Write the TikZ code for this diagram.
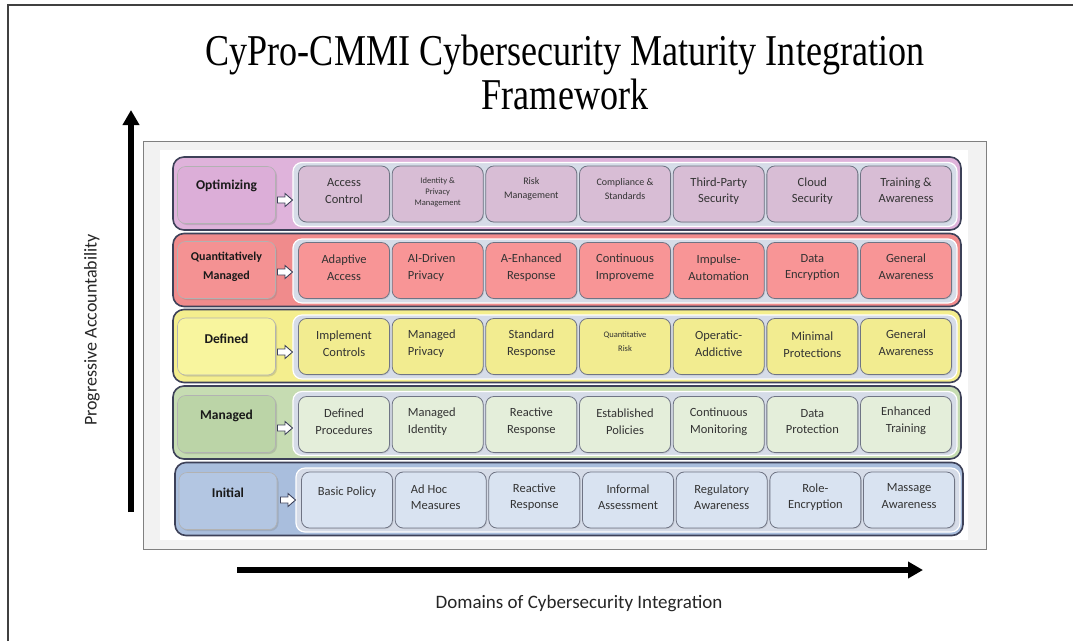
\documentclass[tikz,border=0pt]{standalone}
\usepackage{fontspec}
\setmainfont{Carlito}
\newfontfamily\titlefont{Liberation Serif}
\usetikzlibrary{shadows,arrows.meta}
\definecolor{rowline}{HTML}{3D4158}
\definecolor{cellline}{HTML}{6F7484}
\definecolor{contfill}{HTML}{D6DCE8}
\definecolor{oA}{HTML}{DFB3DB}\definecolor{lA}{HTML}{DCAED8}\definecolor{cA}{HTML}{D8BDD5}
\definecolor{oB}{HTML}{F08B8C}\definecolor{lB}{HTML}{F49293}\definecolor{cB}{HTML}{F89596}
\definecolor{oC}{HTML}{F4EE8E}\definecolor{lC}{HTML}{F8F59E}\definecolor{cC}{HTML}{F2EC90}
\definecolor{oD}{HTML}{C6DCB2}\definecolor{lD}{HTML}{BBD4A7}\definecolor{cD}{HTML}{E4EEDA}
\definecolor{oE}{HTML}{A9BEDD}\definecolor{lE}{HTML}{B3C6E2}\definecolor{cE}{HTML}{D9E3F1}
\newcommand\blockarrowat[1]{%
  \draw[blockarrow, shift={(#1)}] (-7.5,-3) -- (0,-3) -- (0,-6.5) -- (7.5,0) -- (0,6.5) -- (0,3) -- (-7.5,3) -- cycle;}
\begin{document}
\begin{tikzpicture}[x=1pt,y=-1pt,
  rowbox/.style={draw=rowline, line width=1.6pt, rounded corners=11pt, minimum width=788pt, minimum height=73pt, inner sep=0pt},
  container/.style={draw=white, line width=1.2pt, fill=contfill, rounded corners=9pt, minimum width=664pt, minimum height=64pt, inner sep=0pt},
  cell/.style={draw=cellline, line width=0.8pt, rounded corners=8pt, minimum width=91pt, minimum height=56pt, inner sep=0pt,
     drop shadow={shadow xshift=1pt, shadow yshift=-1pt, opacity=0.2}},
  level/.style={draw=black!30, line width=0.6pt, rounded corners=8pt, minimum width=98pt, minimum height=57pt, inner sep=0pt,
     drop shadow={shadow xshift=1.5pt, shadow yshift=-1.5pt, opacity=0.3}},
  ctext/.style={align=center, text=black!80, font=\fontsize{12.5}{16.5}\selectfont, inner sep=0pt},
  ltext/.style={align=left, anchor=west},
  fsm/.style={font=\fontsize{8.5}{11}\selectfont},
  fmd/.style={font=\fontsize{10}{14}\selectfont},
  lvtext/.style={align=center, text=black!90, font=\bfseries\fontsize{13.5}{19}\selectfont, inner sep=0pt},
  blockarrow/.style={draw=rowline, line width=0.9pt, fill=white, line join=miter},
  bigarrow/.style={line width=5.5pt, -{Triangle[length=15pt,width=16pt]}},
]
\useasboundingbox (0,0) rectangle (1073,641);
\fill[white] (0,0) rectangle (1073,641);
% slide frame
\coordinate (fb) at (8,641);
\coordinate (fc) at (8,5);
\coordinate (fr) at (1073,5);
\draw[black!75, line width=1.6pt] (fb) -- (fc) -- (fr);
% title
\node[font=\titlefont\fontsize{44}{44}\selectfont, align=center] (title) at (565,72)
  {\scalebox{0.82}[1]{CyPro-CMMI Cybersecurity Maturity Integration}\\\scalebox{0.82}[1]{Framework}};
% axes
\coordinate (vb) at (131,512);
\coordinate (vt) at (131,110);
\draw[bigarrow] (vb) -- (vt);
\coordinate (hb) at (237,570);
\coordinate (ht) at (923,570);
\draw[bigarrow] (hb) -- (ht);
\node[rotate=90, font=\fontsize{18}{20}\selectfont, text=black!85] (ylab) at (92,330) {Progressive Accountability};
\node[font=\fontsize{19}{20}\selectfont, text=black!85] (xlab) at (579,604) {Domains of Cybersecurity Integration};
% screenshot frame
\draw[draw=black!50, fill=black!5, line width=0.8pt] (143,141) rectangle (986,549);
\fill[white] (160,150) rectangle (968,540);

% ---------- Row 1: Optimizing
\node[rowbox, fill=oA] (row1) at (567,193.5) {};
\node[container] (cont1) at (625,194.5) {};
\node[level, fill=lA] (lev1) at (226.5,195) {};
\node[lvtext] (lev1t) at ([yshift=9pt]lev1.center) {Optimizing};
\coordinate (ar1) at (285,200); \blockarrowat{ar1}
\foreach \o/\t [count=\j] in {
  {yshift=3pt}/{Access\\Control},
  {fsm, yshift=2pt}/{Identity \&\\Privacy\\Management},
  {fmd, yshift=5pt}/{Risk\\Management},
  {fmd, yshift=4.5pt}/{Compliance \&\\Standards},
  {yshift=3pt}/{Third-Party\\Security},
  {yshift=3pt}/{Cloud\\Security},
  {yshift=4pt}/{Training \&\\Awareness}}{
  \pgfmathsetmacro\cx{344+(\j-1)*93.67}
  \tikzset{curopt/.style/.expand once=\o}
  \node[cell, fill=cA] (r1c\j) at (\cx,194) {};
  \node[ctext, curopt] (r1t\j) at (r1c\j.center) {\t};
}
% ---------- Row 2: Quantitatively Managed
\node[rowbox, fill=oB] (row2) at (567,270) {};
\node[container] (cont2) at (625,271) {};
\node[level, fill=lB] (lev2) at (226.5,270) {};
\node[lvtext, font=\bfseries\fontsize{12}{19}\selectfont] (lev2t) at ([yshift=3pt]lev2.center) {Quantitatively\\Managed};
\coordinate (ar2) at (285,272); \blockarrowat{ar2}
\foreach \o/\t [count=\j] in {
  {yshift=3pt}/{Adaptive\\Access},
  {ltext, xshift=-30pt, yshift=3pt}/{AI-Driven\\Privacy},
  {yshift=3pt}/{A-Enhanced\\Response},
  {yshift=3pt}/{Continuous\\Improveme},
  {yshift=3pt}/{Impulse-\\Automation},
  {yshift=3pt}/{Data\\Encryption},
  {yshift=4pt}/{General\\Awareness}}{
  \pgfmathsetmacro\cx{344+(\j-1)*93.67}
  \tikzset{curopt/.style/.expand once=\o}
  \node[cell, fill=cB] (r2c\j) at (\cx,270.5) {};
  \node[ctext, curopt] (r2t\j) at (r2c\j.center) {\t};
}
% ---------- Row 3: Defined
\node[rowbox, fill=oC] (row3) at (567,346) {};
\node[container] (cont3) at (625,347) {};
\node[level, fill=lC] (lev3) at (226.5,346.5) {};
\node[lvtext] (lev3t) at ([yshift=8pt]lev3.center) {Defined};
\coordinate (ar3) at (285,352); \blockarrowat{ar3}
\foreach \o/\t [count=\j] in {
  {yshift=3pt}/{Implement\\Controls},
  {ltext, xshift=-30pt, yshift=3pt}/{Managed\\Privacy},
  {yshift=3pt}/{Standard\\Response},
  {fsm, font=\fontsize{8.5}{14}\selectfont, yshift=4.5pt}/{Quantitative\\Risk},
  {yshift=3pt}/{Operatic-\\Addictive},
  {yshift=2pt}/{Minimal\\Protections},
  {yshift=4pt}/{General\\Awareness}}{
  \pgfmathsetmacro\cx{344+(\j-1)*93.67}
  \tikzset{curopt/.style/.expand once=\o}
  \node[cell, fill=cC] (r3c\j) at (\cx,346.5) {};
  \node[ctext, curopt] (r3t\j) at (r3c\j.center) {\t};
}
% ---------- Row 4: Managed
\node[rowbox, fill=oD] (row4) at (567,422.5) {};
\node[container] (cont4) at (625,423.5) {};
\node[level, fill=lD] (lev4) at (226.5,424) {};
\node[lvtext] (lev4t) at ([yshift=8pt]lev4.center) {Managed};
\coordinate (ar4) at (285,428); \blockarrowat{ar4}
\foreach \o/\t [count=\j] in {
  {yshift=3pt}/{Defined\\Procedures},
  {ltext, xshift=-30pt, yshift=3pt}/{Managed\\Identity},
  {yshift=3pt}/{Reactive\\Response},
  {yshift=3pt}/{Established\\Policies},
  {yshift=3pt}/{Continuous\\Monitoring},
  {yshift=3pt}/{Data\\Protection},
  {yshift=4pt}/{Enhanced\\Training}}{
  \pgfmathsetmacro\cx{344+(\j-1)*93.67}
  \tikzset{curopt/.style/.expand once=\o}
  \node[cell, fill=cD] (r4c\j) at (\cx,424.5) {};
  \node[ctext, curopt] (r4t\j) at (r4c\j.center) {\t};
}
% ---------- Row 5: Initial
\node[rowbox, fill=oE] (row5) at (569,499) {};
\node[container] (cont5) at (628,500) {};
\node[level, fill=lE] (lev5) at (228,501) {};
\node[lvtext] (lev5t) at ([yshift=8pt]lev5.center) {Initial};
\coordinate (ar5) at (288,500); \blockarrowat{ar5}
\foreach \o/\t [count=\j] in {
  {yshift=8pt}/{Basic Policy},
  {ltext, xshift=-30pt, yshift=3pt}/{Ad Hoc\\Measures},
  {yshift=3pt}/{Reactive\\Response},
  {yshift=3pt}/{Informal\\Assessment},
  {yshift=3pt}/{Regulatory\\Awareness},
  {yshift=3pt}/{Role-\\Encryption},
  {yshift=4pt}/{Massage\\Awareness}}{
  \pgfmathsetmacro\cx{347+(\j-1)*93.67}
  \tikzset{curopt/.style/.expand once=\o}
  \node[cell, fill=cE] (r5c\j) at (\cx,500) {};
  \node[ctext, curopt] (r5t\j) at (r5c\j.center) {\t};
}
\end{tikzpicture}
\end{document}
